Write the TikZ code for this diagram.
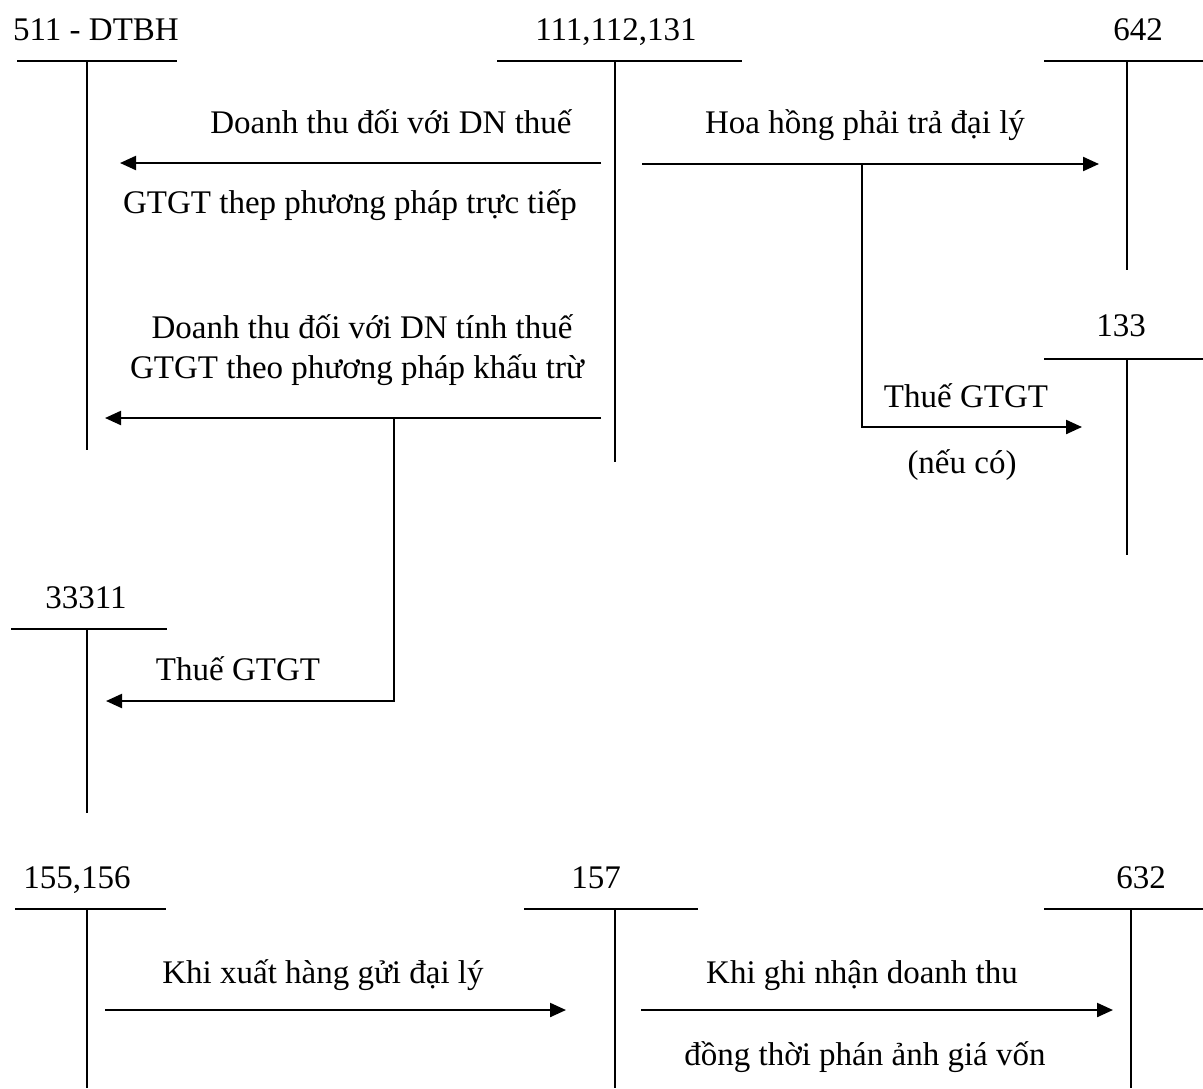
\documentclass[tikz,border=0pt]{standalone}
\usepackage{fontspec}
\setmainfont{Liberation Serif}
\usetikzlibrary{arrows.meta}
\begin{document}
\begin{tikzpicture}[x=0.5pt,y=-0.5pt,
  lbl/.style={font=\fontsize{16.5pt}{20pt}\selectfont, inner sep=0pt, anchor=base},
  tline/.style={line width=1.1pt},
  flow/.style={line width=1.1pt,-{Triangle[length=8pt,width=7pt]}}]
\useasboundingbox (0,0) rectangle (1203,1088);

% ---- T-accounts ----
% 511
\node[lbl] (n511) at (96,40) {511 - DTBH};
\coordinate (l511a) at (17,61);  \coordinate (l511b) at (177,61);
\coordinate (v511a) at (87,61);  \coordinate (v511b) at (87,450);
\draw[tline] (l511a) -- (l511b); \draw[tline] (v511a) -- (v511b);
% 111,112,131
\node[lbl] (n111) at (616,40) {111,112,131};
\coordinate (l111a) at (497,61);  \coordinate (l111b) at (742,61);
\coordinate (v111a) at (615,61);  \coordinate (v111b) at (615,462);
\draw[tline] (l111a) -- (l111b); \draw[tline] (v111a) -- (v111b);
% 642
\node[lbl] (n642) at (1138,40) {642};
\coordinate (l642a) at (1044,61);  \coordinate (l642b) at (1203,61);
\coordinate (v642a) at (1127,61);  \coordinate (v642b) at (1127,270);
\draw[tline] (l642a) -- (l642b); \draw[tline] (v642a) -- (v642b);
% 133
\node[lbl] (n133) at (1121,336) {133};
\coordinate (l133a) at (1044,359);  \coordinate (l133b) at (1203,359);
\coordinate (v133a) at (1127,359);  \coordinate (v133b) at (1127,555);
\draw[tline] (l133a) -- (l133b); \draw[tline] (v133a) -- (v133b);
% 33311
\node[lbl] (n333) at (86,608) {33311};
\coordinate (l333a) at (11,629);  \coordinate (l333b) at (167,629);
\coordinate (v333a) at (87,629);  \coordinate (v333b) at (87,813);
\draw[tline] (l333a) -- (l333b); \draw[tline] (v333a) -- (v333b);
% 155,156
\node[lbl] (n155) at (77,888) {155,156};
\coordinate (l155a) at (15,909);  \coordinate (l155b) at (166,909);
\coordinate (v155a) at (87,909);  \coordinate (v155b) at (87,1088);
\draw[tline] (l155a) -- (l155b); \draw[tline] (v155a) -- (v155b);
% 157
\node[lbl] (n157) at (596,888) {157};
\coordinate (l157a) at (524,909);  \coordinate (l157b) at (698,909);
\coordinate (v157a) at (615,909);  \coordinate (v157b) at (615,1088);
\draw[tline] (l157a) -- (l157b); \draw[tline] (v157a) -- (v157b);
% 632
\node[lbl] (n632) at (1141,888) {632};
\coordinate (l632a) at (1044,909);  \coordinate (l632b) at (1203,909);
\coordinate (v632a) at (1131,909);  \coordinate (v632b) at (1131,1088);
\draw[tline] (l632a) -- (l632b); \draw[tline] (v632a) -- (v632b);

% ---- flows ----
\coordinate (f1s) at (601,163); \coordinate (f1e) at (120,163);
\draw[flow] (f1s) -- (f1e);
\node[lbl] (t1a) at (391,133) {Doanh thu đối với DN thuế};
\node[lbl] (t1b) at (350,213) {GTGT thep phương pháp trực tiếp};

\coordinate (f2s) at (642,164); \coordinate (f2e) at (1099,164);
\draw[flow] (f2s) -- (f2e);
\node[lbl] (t2) at (865,133) {Hoa hồng phải trả đại lý};

\coordinate (f3s) at (862,164); \coordinate (f3e) at (1082,427);
\draw[flow] (f3s) |- (f3e);
\node[lbl] (t3a) at (966,407) {Thuế GTGT};
\node[lbl] (t3b) at (962,473) {(nếu có)};

\coordinate (f4s) at (601,418); \coordinate (f4e) at (105,418);
\draw[flow] (f4s) -- (f4e);
\node[lbl] (t4a) at (362,338) {Doanh thu đối với DN tính thuế};
\node[lbl] (t4b) at (357,378) {GTGT theo phương pháp khấu trừ};

\coordinate (f5s) at (394,418); \coordinate (f5e) at (106,701);
\draw[flow] (f5s) |- (f5e);
\node[lbl] (t5) at (238,680) {Thuế GTGT};

\coordinate (f6s) at (105,1010); \coordinate (f6e) at (566,1010);
\draw[flow] (f6s) -- (f6e);
\node[lbl] (t6) at (323,983) {Khi xuất hàng gửi đại lý};

\coordinate (f7s) at (641,1010); \coordinate (f7e) at (1113,1010);
\draw[flow] (f7s) -- (f7e);
\node[lbl] (t7a) at (862,983) {Khi ghi nhận doanh thu};
\node[lbl] (t7b) at (865,1065) {đồng thời phán ảnh giá vốn};
\end{tikzpicture}
\end{document}
